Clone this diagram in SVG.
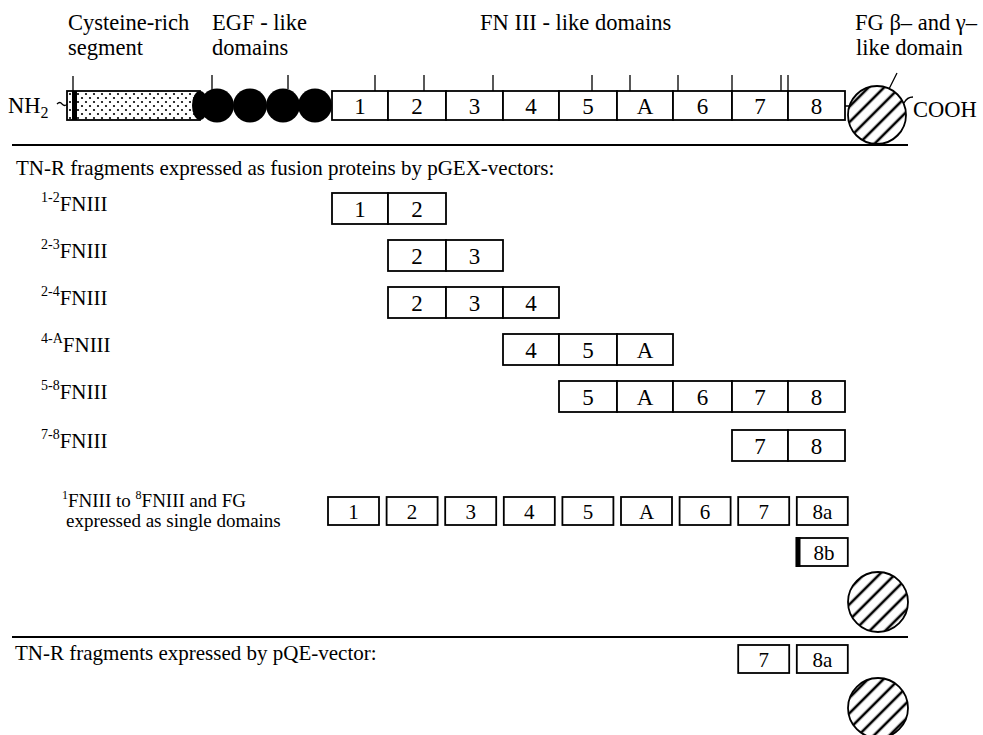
<svg xmlns="http://www.w3.org/2000/svg" width="983" height="735" viewBox="0 0 983 735" font-family="'Liberation Serif','Times New Roman',serif">
<defs>
<pattern id="hatch" width="11" height="11" patternUnits="userSpaceOnUse" patternTransform="rotate(45)"><line x1="5" y1="-1" x2="5" y2="12" stroke="#000" stroke-width="2.6"/></pattern>
<pattern id="dots" width="8" height="8" patternUnits="userSpaceOnUse"><circle cx="2" cy="2" r="1.1" fill="#000"/><circle cx="6" cy="6" r="1.1" fill="#000"/></pattern>
</defs>
<style>
text{font-family:"Liberation Serif","Times New Roman",serif;fill:#000}
.lbl{font-size:22.5px}
.box{fill:#fff;stroke:#000;stroke-width:1.8}
.d{font-size:23px;text-anchor:middle}
.sd{font-size:21px;text-anchor:middle}
.t{font-size:21px}
.sup{font-size:14px}
.fg{fill:url(#hatch);stroke:#000;stroke-width:1.8}
.rule{stroke:#000;stroke-width:2.2}
.tick{stroke:#000;stroke-width:1.3;fill:none}
</style>

<g id="headers">
<text class="lbl" x="68" y="30">Cysteine-rich</text>
<text class="lbl" x="68" y="55">segment</text>
<text class="lbl" x="212" y="30">EGF - like</text>
<text class="lbl" x="212" y="55">domains</text>
<text class="lbl" x="480" y="30">FN III - like domains</text>
<text class="lbl" x="855" y="30">FG β– and γ–</text>
<text class="lbl" x="856" y="55">like domain</text>
</g>

<g id="protein">
<text class="lbl" x="8" y="113">NH<tspan font-size="16" dy="5">2</tspan></text>
<rect x="67" y="91" width="133" height="29" fill="url(#dots)" stroke="#000" stroke-width="1.8"/>
<rect x="72" y="91" width="5" height="29" fill="#000"/>
<g fill="#000">
<ellipse cx="200" cy="105.5" rx="8" ry="14.5"/>
<circle cx="217" cy="105.5" r="17"/>
<circle cx="250" cy="105.5" r="17"/>
<circle cx="283" cy="105.5" r="17"/>
<circle cx="315" cy="105.5" r="17"/>
</g>
<rect class="box" x="332" y="91" width="56" height="29"/>
<rect class="box" x="388" y="91" width="58" height="29"/>
<rect class="box" x="446" y="91" width="57" height="29"/>
<rect class="box" x="503" y="91" width="56" height="29"/>
<rect class="box" x="559" y="91" width="58" height="29"/>
<rect class="box" x="617" y="91" width="56" height="29"/>
<rect class="box" x="673" y="91" width="59" height="29"/>
<rect class="box" x="732" y="91" width="56" height="29"/>
<rect class="box" x="788" y="91" width="57" height="29"/>
<text class="d" x="360" y="114">1</text>
<text class="d" x="417" y="114">2</text>
<text class="d" x="474.5" y="114">3</text>
<text class="d" x="531" y="114">4</text>
<text class="d" x="588" y="114">5</text>
<text class="d" x="645" y="114">A</text>
<text class="d" x="702.5" y="114">6</text>
<text class="d" x="760" y="114">7</text>
<text class="d" x="816.5" y="114">8</text>
<circle class="fg" cx="877" cy="115" r="29"/>
<text class="lbl" x="913" y="117">COOH</text>
</g>

<g id="connectors">
<path class="tick" d="M57,104 q3,-3 5,0 q3,3 5,0 M73,76 V91 M212,75 V91 M288,75 V89 M375,75 V91 M424,75 V91 M493,75 V91 M592,75 V91 M630,75 V91 M678,75 V91 M732,75 V91 M781,75 V91 M788,75 V91 M897,73 L889,89 M845,106 L849,106 M904,103 q3,-6 9,-6"/>
<line class="rule" x1="12" y1="145" x2="908" y2="145"/>
<line class="rule" x1="12" y1="637" x2="908" y2="637"/>
</g>

<text class="t" x="16" y="175">TN-R fragments expressed as fusion proteins by pGEX-vectors:</text>

<g id="frag-1-2">
<text class="t" x="41" y="211"><tspan class="sup" dy="-9">1-2</tspan><tspan dy="9">FNIII</tspan></text>
<rect class="box" x="332" y="193" width="56" height="31"/>
<rect class="box" x="388" y="193" width="58" height="31"/>
<text class="d" x="360" y="217">1</text><text class="d" x="417" y="217">2</text>
</g>
<g id="frag-2-3">
<text class="t" x="41" y="258"><tspan class="sup" dy="-9">2-3</tspan><tspan dy="9">FNIII</tspan></text>
<rect class="box" x="388" y="240" width="58" height="31"/>
<rect class="box" x="446" y="240" width="57" height="31"/>
<text class="d" x="417" y="264">2</text><text class="d" x="474.5" y="264">3</text>
</g>
<g id="frag-2-4">
<text class="t" x="41" y="305"><tspan class="sup" dy="-9">2-4</tspan><tspan dy="9">FNIII</tspan></text>
<rect class="box" x="388" y="287" width="58" height="31"/>
<rect class="box" x="446" y="287" width="57" height="31"/>
<rect class="box" x="503" y="287" width="56" height="31"/>
<text class="d" x="417" y="311">2</text><text class="d" x="474.5" y="311">3</text><text class="d" x="531" y="311">4</text>
</g>
<g id="frag-4-A">
<text class="t" x="41" y="352"><tspan class="sup" dy="-9">4-A</tspan><tspan dy="9">FNIII</tspan></text>
<rect class="box" x="503" y="334" width="56" height="31"/>
<rect class="box" x="559" y="334" width="58" height="31"/>
<rect class="box" x="617" y="334" width="56" height="31"/>
<text class="d" x="531" y="358">4</text><text class="d" x="588" y="358">5</text><text class="d" x="645" y="358">A</text>
</g>
<g id="frag-5-8">
<text class="t" x="41" y="399"><tspan class="sup" dy="-9">5-8</tspan><tspan dy="9">FNIII</tspan></text>
<rect class="box" x="559" y="381" width="58" height="31"/>
<rect class="box" x="617" y="381" width="56" height="31"/>
<rect class="box" x="673" y="381" width="59" height="31"/>
<rect class="box" x="732" y="381" width="56" height="31"/>
<rect class="box" x="788" y="381" width="57" height="31"/>
<text class="d" x="588" y="405">5</text><text class="d" x="645" y="405">A</text><text class="d" x="702.5" y="405">6</text><text class="d" x="760" y="405">7</text><text class="d" x="816.5" y="405">8</text>
</g>
<g id="frag-7-8">
<text class="t" x="41" y="448"><tspan class="sup" dy="-9">7-8</tspan><tspan dy="9">FNIII</tspan></text>
<rect class="box" x="732" y="430" width="56" height="31"/>
<rect class="box" x="788" y="430" width="57" height="31"/>
<text class="d" x="760" y="454">7</text><text class="d" x="816.5" y="454">8</text>
</g>

<g id="single-domains">
<text font-size="19" x="62" y="507"><tspan font-size="12" dy="-8">1</tspan><tspan dy="8">FNIII to </tspan><tspan font-size="12" dy="-8">8</tspan><tspan dy="8">FNIII and FG</tspan></text>
<text font-size="19" x="66" y="527">expressed as single domains</text>
<rect class="box" x="328" y="497" width="51" height="28"/>
<rect class="box" x="386.6" y="497" width="51" height="28"/>
<rect class="box" x="445.2" y="497" width="51" height="28"/>
<rect class="box" x="503.8" y="497" width="51" height="28"/>
<rect class="box" x="562.4" y="497" width="51" height="28"/>
<rect class="box" x="621" y="497" width="51" height="28"/>
<rect class="box" x="679.6" y="497" width="51" height="28"/>
<rect class="box" x="738.2" y="497" width="51" height="28"/>
<rect class="box" x="796.8" y="497" width="51" height="28"/>
<text class="sd" x="353.5" y="519">1</text>
<text class="sd" x="412.1" y="519">2</text>
<text class="sd" x="470.7" y="519">3</text>
<text class="sd" x="529.3" y="519">4</text>
<text class="sd" x="587.9" y="519">5</text>
<text class="sd" x="646.5" y="519">A</text>
<text class="sd" x="705.1" y="519">6</text>
<text class="sd" x="763.7" y="519">7</text>
<text class="sd" x="822.3" y="519">8a</text>
<rect class="box" x="796.8" y="538" width="51" height="28"/>
<rect x="795.5" y="537" width="5" height="30" fill="#000"/>
<text class="sd" x="824" y="560">8b</text>
<circle class="fg" cx="878" cy="602" r="30"/>
</g>

<g id="pqe">
<text class="t" x="15" y="660">TN-R fragments expressed by pQE-vector:</text>
<rect class="box" x="738.2" y="645" width="51" height="28"/>
<rect class="box" x="796.8" y="645" width="51" height="28"/>
<text class="sd" x="763.7" y="667">7</text>
<text class="sd" x="822.3" y="667">8a</text>
<circle class="fg" cx="878" cy="708" r="30"/>
</g>
</svg>
